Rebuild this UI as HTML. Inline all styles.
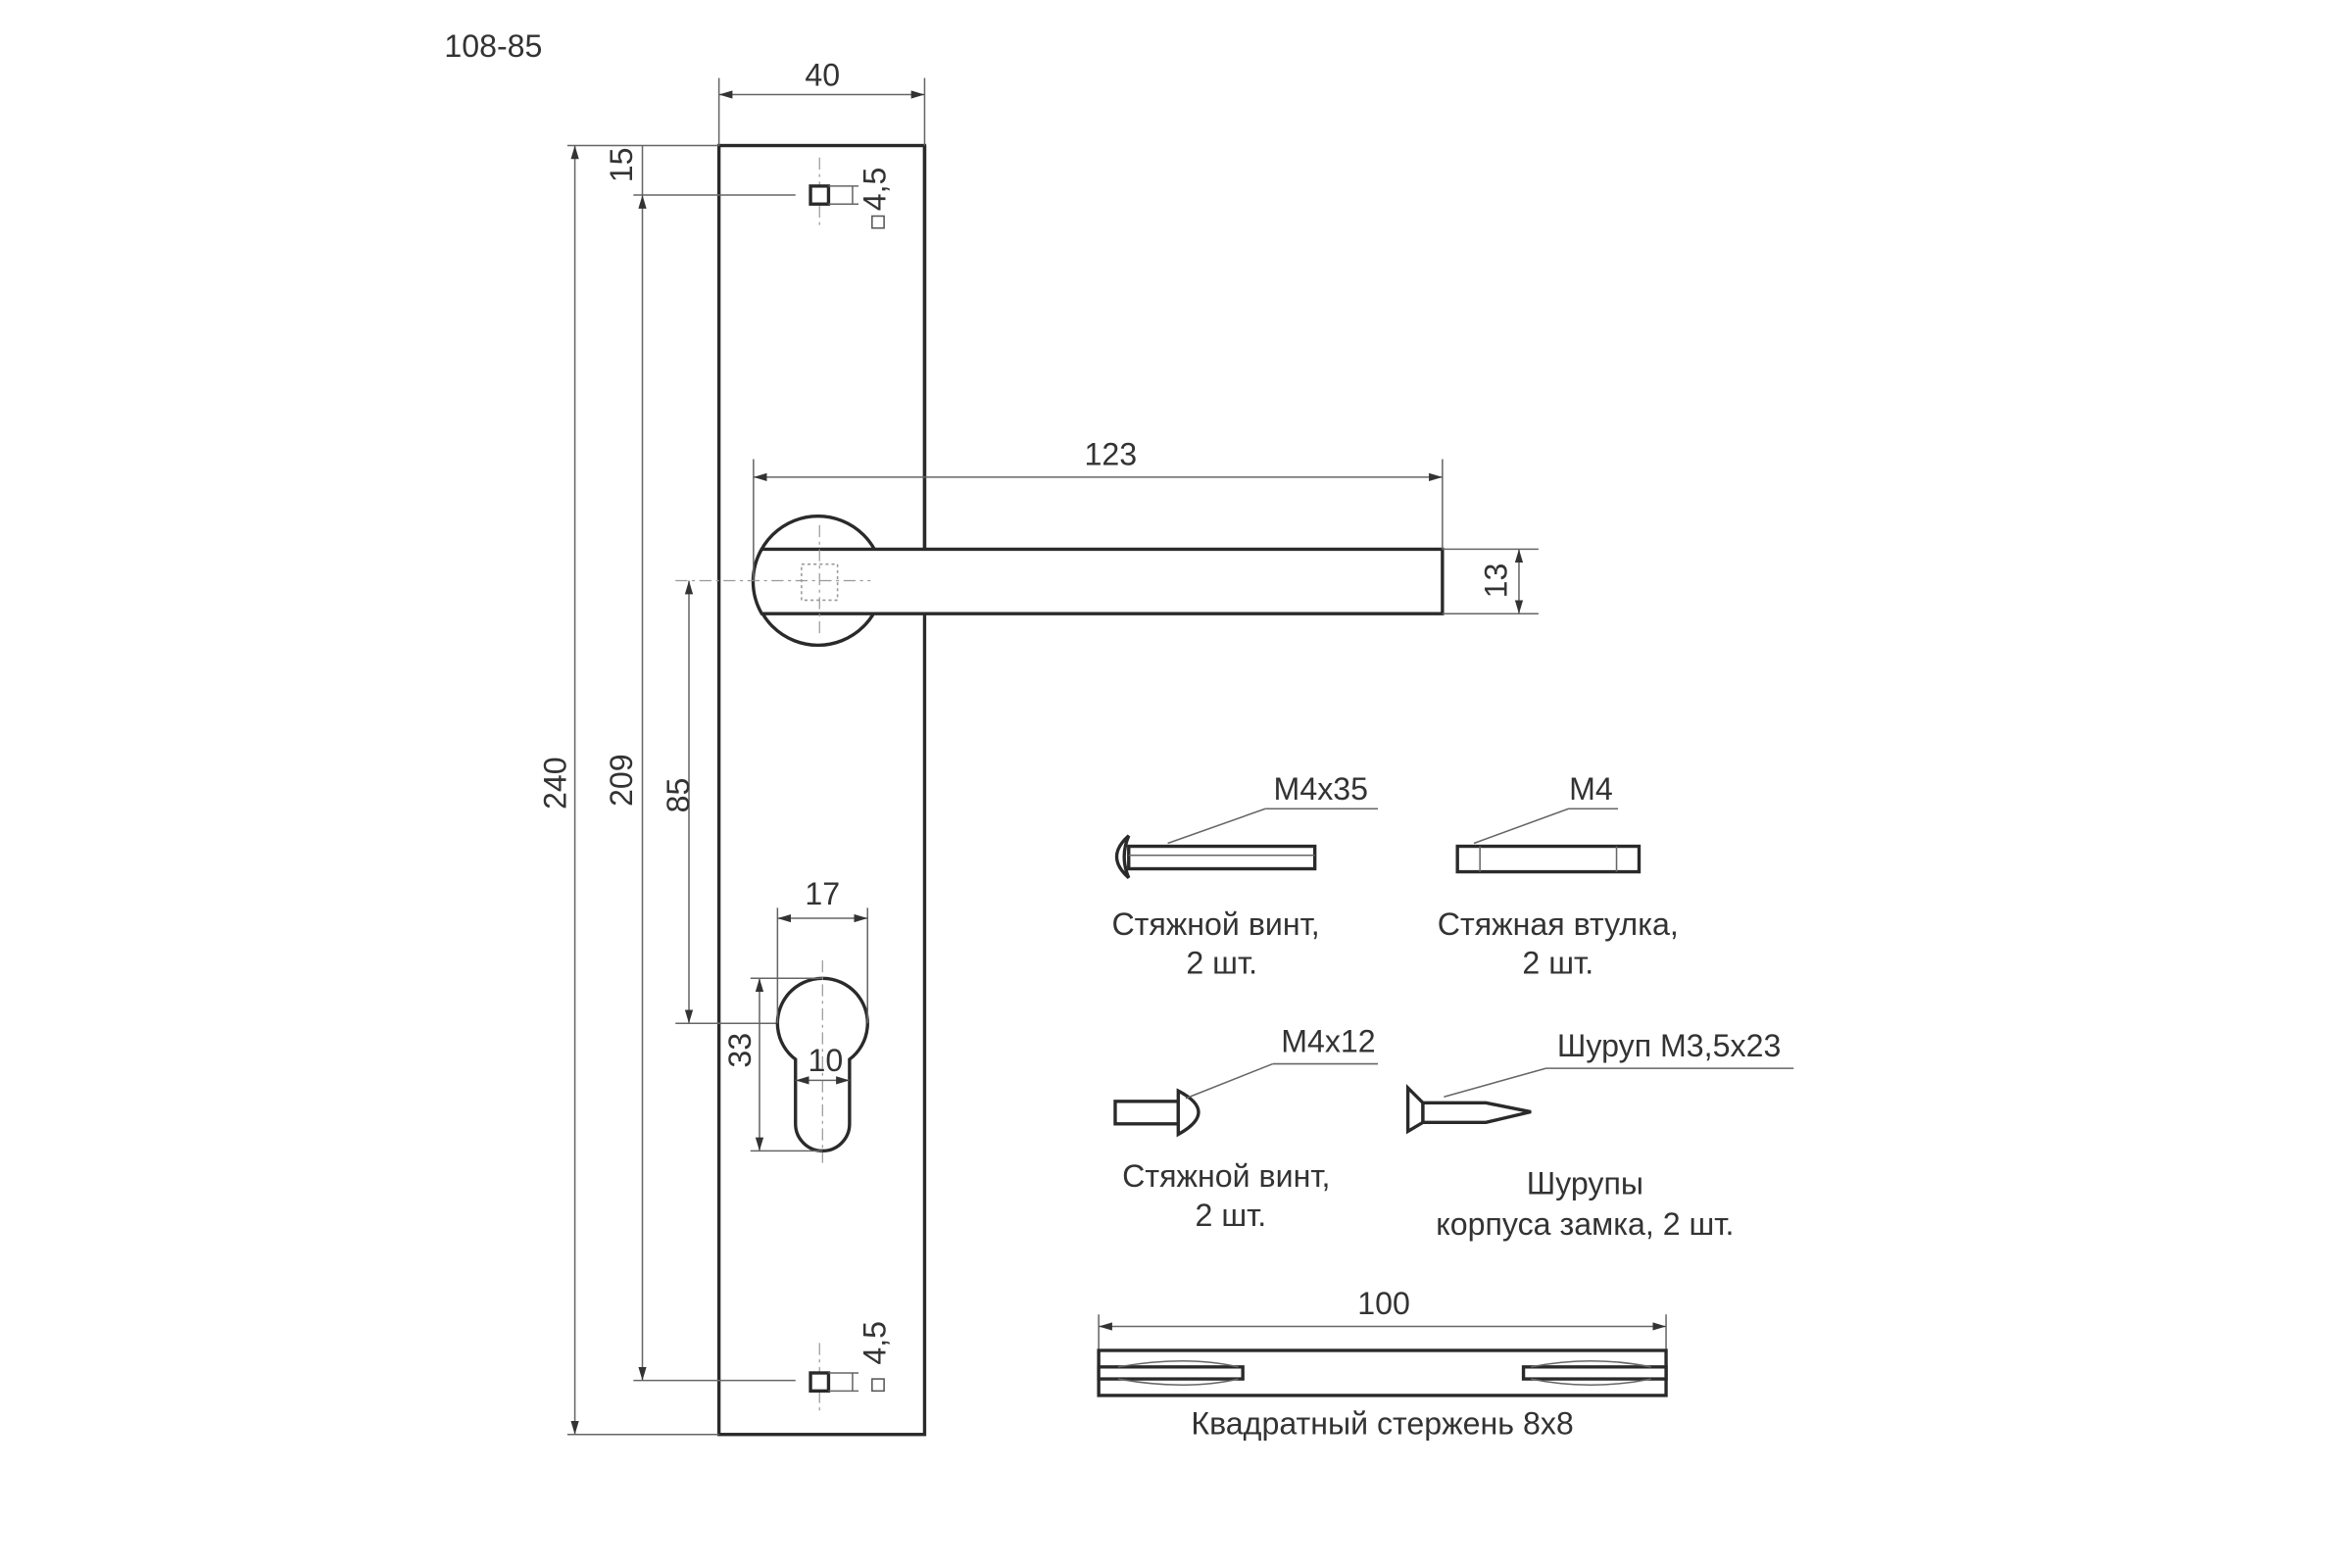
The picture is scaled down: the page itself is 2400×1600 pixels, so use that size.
<!DOCTYPE html>
<html><head><meta charset="utf-8"><style>
html,body{margin:0;padding:0;background:#fff;}
svg{display:block;}
text{font-family:"Liberation Sans",sans-serif;fill:#333;font-size:21px;}
.o{stroke:#2a2a2a;stroke-width:2.2;fill:#fff;}
.d{stroke:#666;stroke-width:1;fill:none;}
.c{stroke:#999;stroke-width:0.8;fill:none;stroke-dasharray:8 3 2 3;}
</style></head><body>
<svg width="2400" height="1600" viewBox="0 0 1567 1045" preserveAspectRatio="none" xmlns="http://www.w3.org/2000/svg">
<defs>
<marker id="a" viewBox="0 0 10 10" refX="10" refY="5" markerWidth="9" markerHeight="9" orient="auto-start-reverse" markerUnits="userSpaceOnUse"><path d="M0,2 L10,5 L0,8 z" fill="#333"/></marker>
</defs>
<text x="296" y="38" font-size="22">108-85</text>
<rect class="o" x="479" y="97" width="137" height="859"/>
<line class="d" x1="479" y1="52" x2="479" y2="97"/><line class="d" x1="616" y1="52" x2="616" y2="97"/>
<line class="d" x1="479" y1="63" x2="616" y2="63" marker-start="url(#a)" marker-end="url(#a)"/>
<text x="548" y="57" text-anchor="middle">40</text>
<line class="d" x1="378" y1="97" x2="479" y2="97"/><line class="d" x1="378" y1="956" x2="479" y2="956"/>
<line class="d" x1="383" y1="97" x2="383" y2="956" marker-start="url(#a)" marker-end="url(#a)"/>
<text transform="translate(377,522) rotate(-90)" text-anchor="middle">240</text>
<line class="d" x1="422" y1="130" x2="530" y2="130"/><line class="d" x1="422" y1="920" x2="530" y2="920"/>
<line class="d" x1="428" y1="130" x2="428" y2="920" marker-start="url(#a)" marker-end="url(#a)"/>
<line class="d" x1="428" y1="97" x2="428" y2="130"/>
<text transform="translate(421,520) rotate(-90)" text-anchor="middle">209</text>
<text transform="translate(421,110) rotate(-90)" text-anchor="middle">15</text>
<line class="c" x1="546" y1="105" x2="546" y2="150"/>
<rect class="o" x="540" y="124" width="12" height="12" stroke-width="1.8"/>
<line class="d" x1="552" y1="124" x2="572" y2="124"/><line class="d" x1="552" y1="136" x2="572" y2="136"/>
<line class="d" x1="568" y1="124" x2="568" y2="136"/>
<text transform="translate(590,126) rotate(-90)" text-anchor="middle">4,5</text>
<rect x="581" y="144" width="8" height="8" fill="none" stroke="#555" stroke-width="1"/>
<line class="c" x1="546" y1="895" x2="546" y2="940"/>
<rect class="o" x="540" y="915" width="12" height="12" stroke-width="1.8"/>
<line class="d" x1="552" y1="915" x2="572" y2="915"/><line class="d" x1="552" y1="927" x2="572" y2="927"/>
<line class="d" x1="568" y1="915" x2="568" y2="927"/>
<text transform="translate(590,895) rotate(-90)" text-anchor="middle">4,5</text>
<rect x="581" y="919" width="8" height="8" fill="none" stroke="#555" stroke-width="1"/>
<circle class="o" cx="545" cy="387" r="43"/>
<line x1="616" y1="97" x2="616" y2="366" stroke="#2a2a2a" stroke-width="2.2"/>
<path class="o" d="M507.5,366 L961,366 L961,409 L507.5,409 A43,43 0 0 1 507.5,366 Z"/>
<rect x="534" y="376" width="24" height="24" fill="none" stroke="#999" stroke-width="1" stroke-dasharray="2 2"/>
<line class="c" x1="450" y1="387" x2="580" y2="387"/>
<line class="c" x1="546" y1="350" x2="546" y2="425"/>
<line class="d" x1="502" y1="306" x2="502" y2="387"/><line class="d" x1="961" y1="306" x2="961" y2="366"/>
<line class="d" x1="502" y1="318" x2="961" y2="318" marker-start="url(#a)" marker-end="url(#a)"/>
<text x="740" y="310" text-anchor="middle">123</text>
<line class="d" x1="961" y1="366" x2="1025" y2="366"/><line class="d" x1="961" y1="409" x2="1025" y2="409"/>
<line class="d" x1="1012" y1="366" x2="1012" y2="409" marker-start="url(#a)" marker-end="url(#a)"/>
<text transform="translate(1004,387) rotate(-90)" text-anchor="middle">13</text>
<line class="d" x1="459" y1="387" x2="459" y2="682" marker-start="url(#a)" marker-end="url(#a)"/>
<line class="d" x1="450" y1="682" x2="520" y2="682"/>
<text transform="translate(459,530) rotate(-90)" text-anchor="middle">85</text>
<path class="o" d="M530,706 A30,30 0 1 1 566,706 L566,749 A18,18 0 0 1 530,749 Z"/>
<line class="c" x1="548" y1="640" x2="548" y2="775"/>
<line class="d" x1="518" y1="605" x2="518" y2="682"/><line class="d" x1="578" y1="605" x2="578" y2="682"/>
<line class="d" x1="518" y1="612" x2="578" y2="612" marker-start="url(#a)" marker-end="url(#a)"/>
<text x="548" y="603" text-anchor="middle">17</text>
<line class="d" x1="500" y1="652" x2="548" y2="652"/><line class="d" x1="500" y1="767" x2="548" y2="767"/>
<line class="d" x1="506" y1="652" x2="506" y2="767" marker-start="url(#a)" marker-end="url(#a)"/>
<text transform="translate(500,700) rotate(-90)" text-anchor="middle">33</text>
<line class="d" x1="530" y1="720" x2="566" y2="720" marker-start="url(#a)" marker-end="url(#a)"/>
<text x="550" y="714" text-anchor="middle">10</text>
<path class="o" d="M752,557 Q736,571 752,585 Q746,571 752,557 Z" stroke-width="1.8"/>
<rect class="o" x="752" y="564" width="124" height="15" stroke-width="1.8"/>
<line class="d" x1="752" y1="570" x2="876" y2="570"/>
<line class="d" x1="778" y1="562" x2="843" y2="539"/><line class="d" x1="843" y1="539" x2="918" y2="539"/>
<text x="880" y="533" text-anchor="middle">M4x35</text>
<text x="810" y="623" text-anchor="middle">Стяжной винт,</text>
<text x="814" y="649" text-anchor="middle">2 шт.</text>
<rect class="o" x="971" y="564" width="121" height="17" stroke-width="1.8"/>
<line class="d" x1="986" y1="564" x2="986" y2="581"/><line class="d" x1="1077" y1="564" x2="1077" y2="581"/>
<line class="d" x1="982" y1="562" x2="1045" y2="539"/><line class="d" x1="1045" y1="539" x2="1078" y2="539"/>
<text x="1060" y="533" text-anchor="middle">M4</text>
<text x="1038" y="623" text-anchor="middle">Стяжная втулка,</text>
<text x="1038" y="649" text-anchor="middle">2 шт.</text>
<rect class="o" x="743" y="734" width="42" height="15" stroke-width="1.8"/>
<path class="o" d="M785,727 Q812,741 785,756 Z" stroke-width="1.8"/>
<line class="d" x1="790" y1="732" x2="848" y2="709"/><line class="d" x1="848" y1="709" x2="918" y2="709"/>
<text x="885" y="701" text-anchor="middle">M4x12</text>
<text x="817" y="791" text-anchor="middle">Стяжной винт,</text>
<text x="820" y="817" text-anchor="middle">2 шт.</text>
<path class="o" d="M938,725 L948,735 L948,748 L938,754 Z" stroke-width="1.6"/>
<path class="o" d="M948,735 L990,735 L1020,741 L990,748 L948,748 Z" stroke-width="1.6"/>
<line class="d" x1="962" y1="731" x2="1030" y2="712"/><line class="d" x1="1030" y1="712" x2="1195" y2="712"/>
<text x="1112" y="704" text-anchor="middle">Шуруп М3,5х23</text>
<text x="1056" y="796" text-anchor="middle">Шурупы</text>
<text x="1056" y="823" text-anchor="middle">корпуса замка, 2 шт.</text>
<line class="d" x1="732" y1="876" x2="732" y2="900"/><line class="d" x1="1110" y1="876" x2="1110" y2="900"/>
<line class="d" x1="732" y1="884" x2="1110" y2="884" marker-start="url(#a)" marker-end="url(#a)"/>
<text x="922" y="876" text-anchor="middle">100</text>
<rect class="o" x="732" y="900" width="378" height="30" stroke-width="2"/>
<rect class="o" x="732" y="911" width="96" height="8" stroke-width="1.6"/>
<rect class="o" x="1015" y="911" width="95" height="8" stroke-width="1.6"/>
<path d="M745,911 Q790,903 825,911 M745,919 Q790,927 825,919" class="d"/>
<path d="M1020,911 Q1060,903 1100,911 M1020,919 Q1060,927 1100,919" class="d"/>
<text x="921" y="956" text-anchor="middle">Квадратный стержень 8х8</text>
</svg>
</body></html>
